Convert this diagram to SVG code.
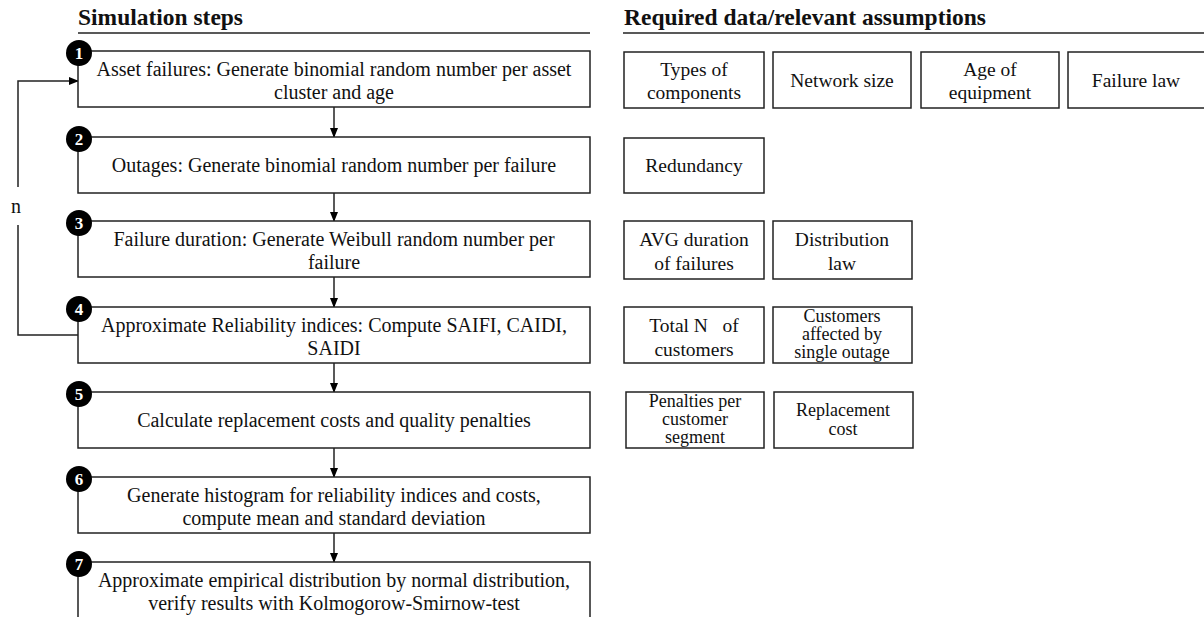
<svg xmlns="http://www.w3.org/2000/svg" width="1204" height="617" viewBox="0 0 1204 617">
<defs>
<marker id="ah" markerWidth="10" markerHeight="8" refX="9" refY="4" orient="auto" markerUnits="userSpaceOnUse">
<path d="M0,0 L10,4 L0,8 Z" fill="#000"/>
</marker>
<style>
.box{fill:#fff;stroke:#222;stroke-width:1.5}
.t{font-family:"Liberation Serif","Times New Roman",serif;font-size:20px;fill:#111;text-anchor:middle}
.rt{font-family:"Liberation Serif","Times New Roman",serif;font-size:19.5px;fill:#111;text-anchor:middle}
.rs{font-family:"Liberation Serif","Times New Roman",serif;font-size:18px;fill:#111;text-anchor:middle}
.h{font-family:"Liberation Serif","Times New Roman",serif;font-size:23px;font-weight:bold;fill:#111}
.num{font-family:"Liberation Serif","Times New Roman",serif;font-size:17px;font-weight:bold;fill:#fff;text-anchor:middle}
.c{fill:#000}
.ln{fill:none;stroke:#222;stroke-width:1.5}
</style>
</defs>
<rect width="1204" height="617" fill="#fff"/>

<g id="headers">
<text class="h" x="78" y="25" textLength="165" lengthAdjust="spacingAndGlyphs">Simulation steps</text>
<line class="ln" x1="78" y1="33" x2="590" y2="33"/>
<text class="h" x="624" y="25" textLength="362" lengthAdjust="spacingAndGlyphs">Required data/relevant assumptions</text>
<line class="ln" x1="623" y1="33" x2="1204" y2="33"/>
</g>

<g id="connectors">
<line class="ln" x1="334" y1="107" x2="334" y2="137" marker-end="url(#ah)"/>
<line class="ln" x1="334" y1="193" x2="334" y2="221" marker-end="url(#ah)"/>
<line class="ln" x1="334" y1="277" x2="334" y2="307" marker-end="url(#ah)"/>
<line class="ln" x1="334" y1="363" x2="334" y2="392" marker-end="url(#ah)"/>
<line class="ln" x1="334" y1="448" x2="334" y2="477" marker-end="url(#ah)"/>
<line class="ln" x1="334" y1="533" x2="334" y2="562" marker-end="url(#ah)"/>
<path class="ln" d="M78,335 H18 V225"/>
<path class="ln" d="M18,187 V81 H78" marker-end="url(#ah)"/>
<text class="t" x="16" y="213">n</text>
</g>

<g id="step1">
<rect class="box" x="78" y="51" width="512" height="56"/>
<text class="t" x="334" y="76">Asset failures: Generate binomial random number per asset</text>
<text class="t" x="334" y="99">cluster and age</text>
<circle class="c" cx="79" cy="53" r="13"/><text class="num" x="79" y="59">1</text>
</g>
<g id="step2">
<rect class="box" x="78" y="137" width="512" height="56"/>
<text class="t" x="334" y="172">Outages: Generate binomial random number per failure</text>
<circle class="c" cx="79" cy="139" r="13"/><text class="num" x="79" y="145">2</text>
</g>
<g id="step3">
<rect class="box" x="78" y="221" width="512" height="56"/>
<text class="t" x="334" y="246">Failure duration: Generate Weibull random number per</text>
<text class="t" x="334" y="269">failure</text>
<circle class="c" cx="79" cy="223" r="13"/><text class="num" x="79" y="229">3</text>
</g>
<g id="step4">
<rect class="box" x="78" y="307" width="512" height="56"/>
<text class="t" x="334" y="332">Approximate Reliability indices: Compute SAIFI, CAIDI,</text>
<text class="t" x="334" y="355">SAIDI</text>
<circle class="c" cx="79" cy="309" r="13"/><text class="num" x="79" y="315">4</text>
</g>
<g id="step5">
<rect class="box" x="78" y="392" width="512" height="56"/>
<text class="t" x="334" y="427">Calculate replacement costs and quality penalties</text>
<circle class="c" cx="79" cy="394" r="13"/><text class="num" x="79" y="400">5</text>
</g>
<g id="step6">
<rect class="box" x="78" y="477" width="512" height="56"/>
<text class="t" x="334" y="502">Generate histogram for reliability indices and costs,</text>
<text class="t" x="334" y="525">compute mean and standard deviation</text>
<circle class="c" cx="79" cy="479" r="13"/><text class="num" x="79" y="485">6</text>
</g>
<g id="step7">
<rect class="box" x="78" y="562" width="512" height="70"/>
<text class="t" x="334" y="587">Approximate empirical distribution by normal distribution,</text>
<text class="t" x="334" y="610">verify results with Kolmogorow-Smirnow-test</text>
<circle class="c" cx="79" cy="564" r="13"/><text class="num" x="79" y="570">7</text>
</g>

<g id="types">
<rect class="box" x="624" y="52" width="140" height="56"/>
<text class="rt" x="694" y="76">Types of</text>
<text class="rt" x="694" y="99">components</text>
</g>
<g id="network">
<rect class="box" x="773" y="52" width="138" height="56"/>
<text class="rt" x="842" y="87">Network size</text>
</g>
<g id="age">
<rect class="box" x="921" y="52" width="138" height="56"/>
<text class="rt" x="990" y="76">Age of</text>
<text class="rt" x="990" y="99">equipment</text>
</g>
<g id="failurelaw">
<rect class="box" x="1068" y="52" width="140" height="56"/>
<text class="rt" x="1136" y="87">Failure law</text>
</g>
<g id="redundancy">
<rect class="box" x="624" y="138" width="140" height="55"/>
<text class="rt" x="694" y="172">Redundancy</text>
</g>
<g id="avg">
<rect class="box" x="624" y="221" width="140" height="58"/>
<text class="rt" x="694" y="246">AVG duration</text>
<text class="rt" x="694" y="270">of failures</text>
</g>
<g id="distlaw">
<rect class="box" x="773" y="221" width="139" height="58"/>
<text class="rt" x="842" y="246">Distribution</text>
<text class="rt" x="842" y="270">law</text>
</g>
<g id="totaln">
<rect class="box" x="624" y="307" width="140" height="56"/>
<text class="rt" x="694" y="332" xml:space="preserve">Total N   of</text>
<text class="rt" x="694" y="356">customers</text>
</g>
<g id="affected">
<rect class="box" x="773" y="307" width="139" height="56"/>
<text class="rs" x="842" y="322">Customers</text>
<text class="rs" x="842" y="340">affected by</text>
<text class="rs" x="842" y="358">single outage</text>
</g>
<g id="penalties">
<rect class="box" x="626" y="392" width="138" height="56"/>
<text class="rs" x="695" y="407">Penalties per</text>
<text class="rs" x="695" y="425">customer</text>
<text class="rs" x="695" y="443">segment</text>
</g>
<g id="replacement">
<rect class="box" x="774" y="392" width="139" height="56"/>
<text class="rs" x="843" y="416">Replacement</text>
<text class="rs" x="843" y="435">cost</text>
</g>
</svg>
